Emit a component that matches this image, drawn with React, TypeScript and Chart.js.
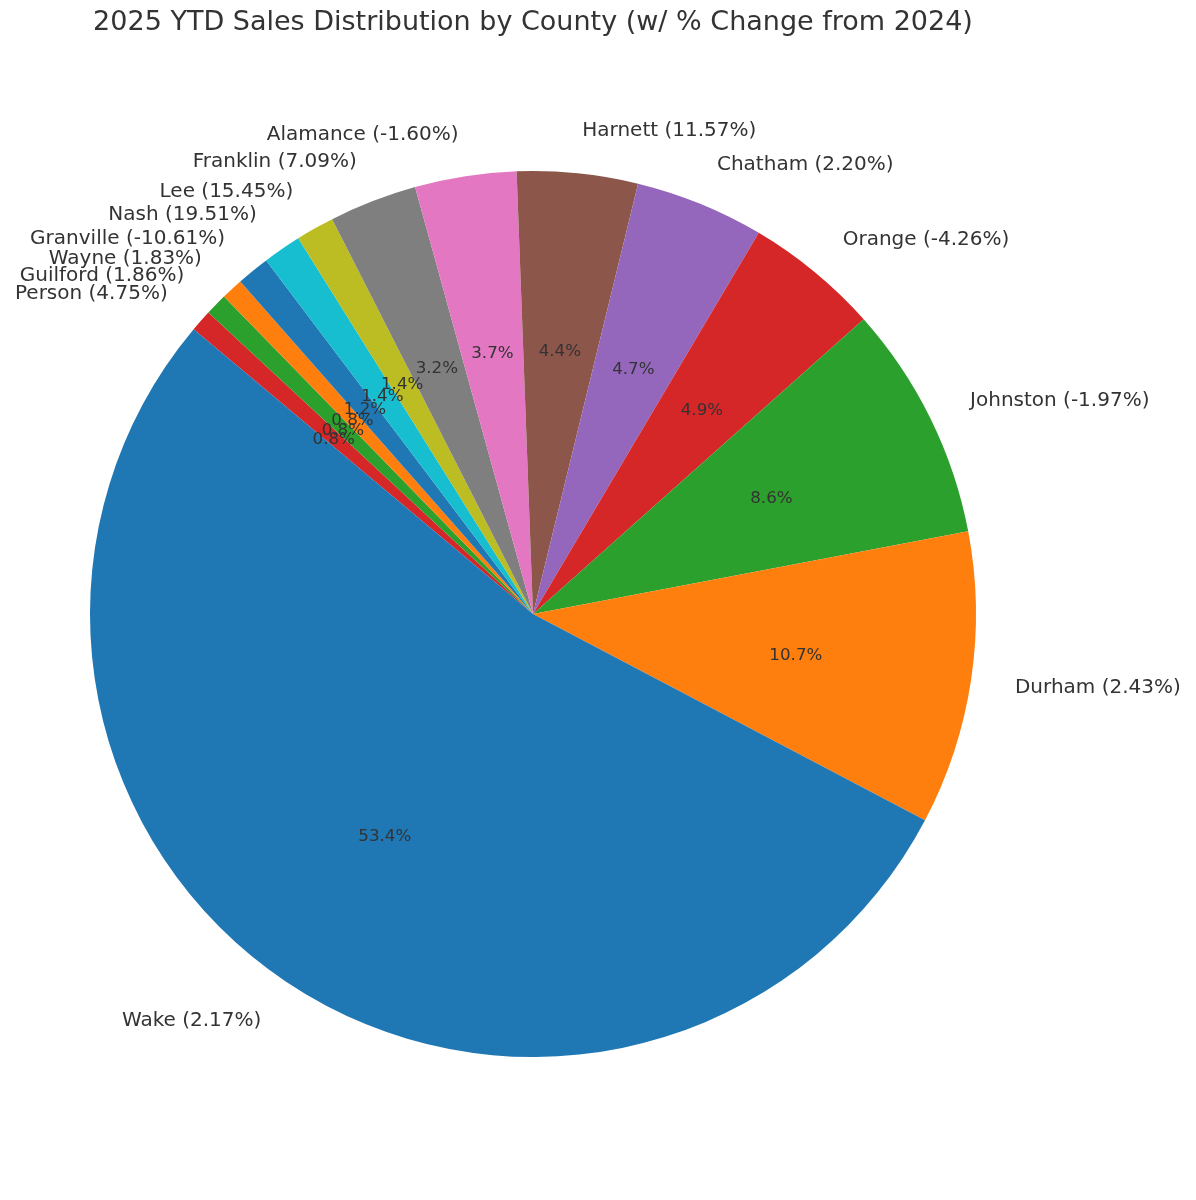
import React, { useEffect, useRef } from "react";
import { Chart, registerables } from "chart.js";

Chart.register(...registerables);

const counties = [
  "Wake", "Durham", "Johnston", "Orange", "Chatham", "Harnett", "Alamance",
  "Franklin", "Lee", "Nash", "Granville", "Wayne", "Guilford", "Person",
];
const shares = [53.4, 10.7, 8.6, 4.9, 4.7, 4.4, 3.7, 3.2, 1.4, 1.4, 1.2, 0.8, 0.8, 0.8];
const changes = [
  "2.17%", "2.43%", "-1.97%", "-4.26%", "2.20%", "11.57%", "-1.60%",
  "7.09%", "15.45%", "19.51%", "-10.61%", "1.83%", "1.86%", "4.75%",
];
const palette = [
  "#1f77b4", "#ff7f0e", "#2ca02c", "#d62728", "#9467bd", "#8c564b", "#e377c2",
  "#7f7f7f", "#bcbd22", "#17becf",
];
const title = "2025 YTD Sales Distribution by County (w/ % Change from 2024)";

const FONT = "'DejaVu Sans', sans-serif";
const TEXT = "#333333";

export default function App() {
  const ref = useRef<HTMLCanvasElement | null>(null);

  useEffect(() => {
    if (!ref.current) return;
    // matplotlib draws counterclockwise from 140°; Chart.js draws clockwise, so reverse.
    const order = counties.map((_, i) => i).reverse();
    const labels = order.map((i) => `${counties[i]} (${changes[i]})`);
    const values = order.map((i) => shares[i]);
    const colors = order.map((i) => palette[i % palette.length]);

    const labelPlugin = {
      id: "pieLabels",
      afterDatasetsDraw(chart: any) {
        const ctx = chart.ctx;
        const meta = chart.getDatasetMeta(0);
        const total = values.reduce((a, b) => a + b, 0);
        ctx.save();
        ctx.fillStyle = TEXT;
        let centerX = chart.width / 2;
        meta.data.forEach((arc: any, k: number) => {
          const mid = (arc.startAngle + arc.endAngle) / 2;
          const r = arc.outerRadius;
          const cx = arc.x;
          const cy = arc.y;
          centerX = cx;
          const c = Math.cos(mid);
          const s = Math.sin(mid);
          ctx.font = `20px ${FONT}`;
          ctx.textBaseline = "middle";
          ctx.textAlign = c >= 0 ? "left" : "right";
          ctx.fillText(labels[k], cx + 1.1 * r * c, cy + 1.1 * r * s + 2);
          ctx.font = `16.7px ${FONT}`;
          ctx.textAlign = "center";
          const pct = ((values[k] / total) * 100).toFixed(1) + "%";
          ctx.fillText(pct, cx + 0.6 * r * c, cy + 0.6 * r * s + 2);
        });
        ctx.font = `27px ${FONT}`;
        ctx.textAlign = "center";
        ctx.textBaseline = "middle";
        ctx.fillText(title, centerX, 23);
        ctx.restore();
      },
    };

    const chart = new Chart(ref.current, {
      type: "pie",
      data: {
        labels,
        datasets: [
          {
            data: values,
            backgroundColor: colors,
            borderWidth: 0,
          },
        ],
      },
      options: {
        animation: false,
        responsive: false,
        rotation: -50,
        layout: { padding: { left: 90, right: 220, top: 171, bottom: 143 } },
        plugins: {
          legend: { display: false },
          tooltip: { enabled: false },
          title: { display: false },
        },
      },
      plugins: [labelPlugin],
    });
    return () => chart.destroy();
  }, []);

  return (
    <div style={{ position: "fixed", left: 0, top: 0, width: 1196, height: 1200, background: "#fff" }}>
      <canvas ref={ref} width={1196} height={1200} style={{ width: 1196, height: 1200 }} />
    </div>
  );
}
